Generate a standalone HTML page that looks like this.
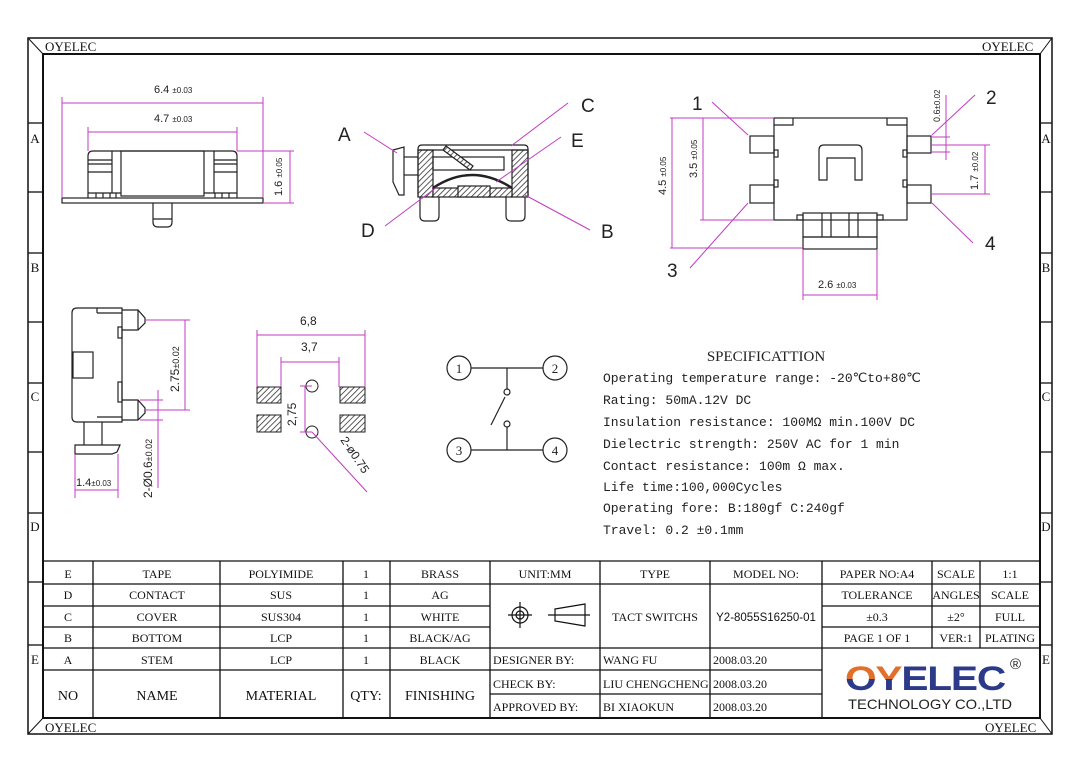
<!DOCTYPE html>
<html><head><meta charset="utf-8"><style>
html,body{margin:0;padding:0;background:#fff;}
svg{display:block;}
.s{font-family:"Liberation Serif",serif;}
.m{font-family:"Liberation Mono",monospace;}
.a{font-family:"Liberation Sans",sans-serif;}
</style></head><body>
<svg width="1080" height="763" viewBox="0 0 1080 763" xmlns="http://www.w3.org/2000/svg">
<defs>
<pattern id="h" width="4" height="4" patternUnits="userSpaceOnUse" patternTransform="rotate(45)"><rect width="4" height="4" fill="#fff"/><line x1="0" y1="0" x2="0" y2="4" stroke="#333" stroke-width="1.6"/></pattern>
<linearGradient id="og" x1="0" y1="0" x2="0" y2="1"><stop offset="0" stop-color="#e0702a"/><stop offset="0.5" stop-color="#e0702a"/><stop offset="0.5" stop-color="#2c3a8a"/><stop offset="1" stop-color="#2c3a8a"/></linearGradient>
</defs>
<!-- frame -->
<g fill="none" stroke="#111">
<rect x="28" y="38" width="1024" height="696" stroke-width="1.5"/>
<rect x="43" y="54" width="997" height="664" stroke-width="2"/>
<line x1="28" y1="38" x2="43" y2="54"/><line x1="1052" y1="38" x2="1040" y2="54"/>
<line x1="28" y1="734" x2="43" y2="718"/><line x1="1052" y1="734" x2="1040" y2="718"/>
<g stroke-width="1.3">
<line x1="28" y1="123" x2="43" y2="123"/><line x1="28" y1="192" x2="43" y2="192"/><line x1="28" y1="253" x2="43" y2="253"/><line x1="28" y1="322" x2="43" y2="322"/><line x1="28" y1="383" x2="43" y2="383"/><line x1="28" y1="452" x2="43" y2="452"/><line x1="28" y1="513" x2="43" y2="513"/><line x1="28" y1="582" x2="43" y2="582"/><line x1="28" y1="645" x2="43" y2="645"/>
<line x1="1040" y1="123" x2="1052" y2="123"/><line x1="1040" y1="192" x2="1052" y2="192"/><line x1="1040" y1="253" x2="1052" y2="253"/><line x1="1040" y1="322" x2="1052" y2="322"/><line x1="1040" y1="383" x2="1052" y2="383"/><line x1="1040" y1="452" x2="1052" y2="452"/><line x1="1040" y1="513" x2="1052" y2="513"/><line x1="1040" y1="582" x2="1052" y2="582"/><line x1="1040" y1="645" x2="1052" y2="645"/>
</g></g>
<g class="s" font-size="13" fill="#111">
<text x="45" y="51">OYELEC</text><text x="982" y="51">OYELEC</text>
<text x="45" y="732">OYELEC</text><text x="985" y="732">OYELEC</text>
<g text-anchor="middle"><text x="35" y="143">A</text><text x="35" y="272">B</text><text x="35" y="401">C</text><text x="35" y="531">D</text><text x="35" y="664">E</text>
<text x="1046" y="143">A</text><text x="1046" y="272">B</text><text x="1046" y="401">C</text><text x="1046" y="531">D</text><text x="1046" y="664">E</text></g>
</g>

<!-- Drawing 1 front view -->
<g fill="none" stroke="#222" stroke-width="1.2">
<path d="M88 198 V156 Q88 151 93 151 H232 Q237 151 237 156 V198"/>
<rect x="62" y="198" width="201" height="5"/>
<rect x="121" y="151" width="83" height="45"/>
<line x1="112" y1="151" x2="112" y2="193"/><line x1="214" y1="151" x2="214" y2="193"/>
<line x1="88" y1="160" x2="112" y2="160"/><line x1="88" y1="164" x2="112" y2="164"/><line x1="88" y1="172" x2="112" y2="172"/>
<line x1="214" y1="160" x2="237" y2="160"/><line x1="214" y1="164" x2="237" y2="164"/><line x1="214" y1="172" x2="237" y2="172"/>
<line x1="88" y1="193" x2="121" y2="193"/><line x1="204" y1="193" x2="237" y2="193"/>
<line x1="96" y1="193" x2="96" y2="198"/><line x1="103" y1="193" x2="103" y2="198"/><line x1="110" y1="193" x2="110" y2="198"/><line x1="116" y1="193" x2="116" y2="198"/>
<line x1="215" y1="193" x2="215" y2="198"/><line x1="222" y1="193" x2="222" y2="198"/><line x1="229" y1="193" x2="229" y2="198"/>
<path d="M153 203 V222 Q153 227 158 227 H167 Q172 227 172 222 V203"/><line x1="153" y1="219" x2="172" y2="219"/>
</g>
<g fill="none" stroke="#c03cc0" stroke-width="1">
<line x1="62" y1="97" x2="62" y2="198"/><line x1="263" y1="97" x2="263" y2="198"/><line x1="62" y1="103" x2="263" y2="103"/>
<line x1="88" y1="127" x2="88" y2="151"/><line x1="237" y1="127" x2="237" y2="151"/><line x1="88" y1="132" x2="237" y2="132"/>
<line x1="237" y1="151" x2="294" y2="151"/><line x1="263" y1="203" x2="294" y2="203"/><line x1="290" y1="151" x2="290" y2="203"/>
</g>
<g class="a" fill="#222" font-size="11">
<text x="154" y="93">6.4 <tspan font-size="8">±0.03</tspan></text>
<text x="154" y="122">4.7 <tspan font-size="8">±0.03</tspan></text>
<text transform="translate(282,196) rotate(-90)">1.6 <tspan font-size="8">±0.05</tspan></text>
</g>

<!-- Drawing 2 cross section -->
<g stroke="#222" stroke-width="1.2">
<rect x="418" y="150" width="15" height="47" fill="url(#h)"/>
<rect x="512" y="150" width="16" height="47" fill="url(#h)"/>
<rect x="433" y="188" width="79" height="9" fill="url(#h)"/>
<rect x="458" y="186" width="32" height="11" fill="url(#h)"/>
<path d="M433 188 Q472 162 512 188" fill="none" stroke-width="2.5"/>
<path d="M418 197 V149 Q418 145 422 145 H524 Q528 145 528 149 V197" fill="none"/>
<line x1="418" y1="150" x2="528" y2="150"/>
<rect x="433" y="157" width="71" height="13" fill="none"/>
<path d="M446 146 L473 166 L470 170 L443 150 Z" fill="url(#h)"/>
<path d="M393 150 L404 147 V195 L399 195 L393 182 Z" fill="#fff"/>
<line x1="404" y1="157" x2="418" y2="157"/><line x1="404" y1="175" x2="418" y2="175"/>
<path d="M420 197 V216 Q420 221 425 221 H434 Q439 221 439 216 V197" fill="none"/>
<path d="M506 197 V216 Q506 221 511 221 H520 Q525 221 525 216 V197" fill="none"/>
</g>
<g fill="none" stroke="#c03cc0" stroke-width="1">
<line x1="364" y1="132" x2="397" y2="153"/><line x1="568" y1="103" x2="511" y2="146"/>
<line x1="561" y1="137" x2="496" y2="182"/><line x1="385" y1="226" x2="437" y2="187"/><line x1="590" y1="230" x2="525" y2="195"/>
</g>
<g class="a" fill="#222" font-size="19">
<text x="338" y="141">A</text><text x="581" y="112">C</text><text x="571" y="147">E</text><text x="361" y="237">D</text><text x="601" y="238">B</text>
</g>

<!-- Drawing 3 top view -->
<g fill="none" stroke="#222" stroke-width="1.2">
<rect x="774" y="118" width="133" height="102"/>
<path d="M774 125 H793 V118"/><path d="M907 125 H887 V118"/>
<path d="M819 180 V150 Q819 145 824 145 H857 Q862 145 862 150 V180 H855 V158 H827 V180 Z"/>
<rect x="750" y="136" width="24" height="17"/><rect x="750" y="185" width="24" height="18"/>
<rect x="907" y="136" width="24" height="17"/><rect x="907" y="185" width="24" height="18"/>
<rect x="774" y="150" width="4" height="7"/><rect x="774" y="180" width="4" height="7"/>
<rect x="903" y="150" width="4" height="7"/><rect x="903" y="180" width="4" height="7"/>
<rect x="803" y="213" width="74" height="24"/><rect x="803" y="237" width="74" height="12"/>
<line x1="822" y1="213" x2="822" y2="237"/><line x1="831" y1="213" x2="831" y2="237"/><line x1="849" y1="213" x2="849" y2="237"/><line x1="858" y1="213" x2="858" y2="237"/>
<rect x="797" y="215" width="6" height="5"/><rect x="877" y="215" width="6" height="5"/>
</g>
<g fill="none" stroke="#c03cc0" stroke-width="1">
<line x1="670" y1="118" x2="774" y2="118"/><line x1="700" y1="220" x2="774" y2="220"/><line x1="670" y1="248" x2="803" y2="248"/>
<line x1="672" y1="118" x2="672" y2="248"/><line x1="703" y1="118" x2="703" y2="220"/>
<line x1="803" y1="249" x2="803" y2="300"/><line x1="877" y1="249" x2="877" y2="300"/><line x1="803" y1="295" x2="877" y2="295"/>
<line x1="931" y1="137" x2="950" y2="137"/><line x1="931" y1="152" x2="950" y2="152"/><line x1="946" y1="95" x2="946" y2="160"/>
<line x1="931" y1="145" x2="990" y2="145"/><line x1="931" y1="194" x2="990" y2="194"/><line x1="985" y1="145" x2="985" y2="194"/>
<line x1="712" y1="102" x2="748" y2="135"/><line x1="975" y1="95" x2="932" y2="135"/>
<line x1="690" y1="268" x2="748" y2="203"/><line x1="973" y1="243" x2="932" y2="203"/>
</g>
<g class="a" fill="#222" font-size="11">
<text transform="translate(666,195) rotate(-90)">4.5 <tspan font-size="8">±0.05</tspan></text>
<text transform="translate(697,178) rotate(-90)">3.5 <tspan font-size="8">±0.05</tspan></text>
<text transform="translate(940,122) rotate(-90)" font-size="9">0.6<tspan font-size="8">±0.02</tspan></text>
<text transform="translate(978,190) rotate(-90)">1.7 <tspan font-size="8">±0.02</tspan></text>
<text x="818" y="288">2.6 <tspan font-size="8">±0.03</tspan></text>
</g>
<g class="a" fill="#222" font-size="19">
<text x="692" y="110">1</text><text x="986" y="104">2</text><text x="667" y="277">3</text><text x="985" y="250">4</text>
</g>

<!-- Drawing 4 side view -->
<g fill="none" stroke="#222" stroke-width="1.2">
<path d="M77 308 H122 V422 H77 Q72 422 72 417 V313 Q72 308 77 308 Z"/>
<rect x="73" y="352" width="20" height="26"/>
<line x1="97" y1="308" x2="97" y2="313"/><line x1="97" y1="313" x2="122" y2="313"/>
<line x1="97" y1="417" x2="122" y2="417"/>
<path d="M122 310 H138 L145 318 V323 L138 330 H122"/><line x1="138" y1="310" x2="138" y2="330"/>
<path d="M122 400 H138 L145 408 V413 L138 420 H122"/><line x1="138" y1="400" x2="138" y2="420"/>
<rect x="118" y="327" width="4" height="11"/><rect x="118" y="382" width="4" height="20"/>
<line x1="84" y1="422" x2="84" y2="445"/><line x1="102" y1="422" x2="102" y2="445"/>
<path d="M75 445 H120 L117 452 L112 454 H75 Z"/>
</g>
<g fill="none" stroke="#c03cc0" stroke-width="1">
<line x1="145" y1="320" x2="190" y2="320"/><line x1="145" y1="410" x2="190" y2="410"/><line x1="185" y1="320" x2="185" y2="410"/>
<line x1="140" y1="400" x2="163" y2="400"/><line x1="140" y1="420" x2="163" y2="420"/><line x1="158" y1="390" x2="158" y2="488"/>
<line x1="75" y1="454" x2="75" y2="498"/><line x1="118" y1="454" x2="118" y2="498"/><line x1="75" y1="490" x2="118" y2="490"/>
</g>
<g class="a" fill="#222" font-size="12">
<text transform="translate(179,392) rotate(-90)">2.75<tspan font-size="9">±0.02</tspan></text>
<text transform="translate(152,498) rotate(-90)">2-Ø0.6<tspan font-size="9">±0.02</tspan></text>
<text x="76" y="486" font-size="11">1.4<tspan font-size="8">±0.03</tspan></text>
</g>

<!-- Drawing 5 footprint -->
<g stroke="#222" stroke-width="1">
<rect x="257" y="387" width="24" height="16" fill="url(#h)"/><rect x="257" y="415" width="24" height="17" fill="url(#h)"/>
<rect x="340" y="387" width="25" height="16" fill="url(#h)"/><rect x="340" y="415" width="25" height="17" fill="url(#h)"/>
<circle cx="312" cy="386" r="6" fill="none"/><circle cx="312" cy="432" r="6" fill="none"/>
</g>
<g fill="none" stroke="#c03cc0" stroke-width="1">
<line x1="257" y1="330" x2="257" y2="387"/><line x1="365" y1="330" x2="365" y2="387"/><line x1="257" y1="335" x2="365" y2="335"/>
<line x1="281" y1="357" x2="281" y2="387"/><line x1="339" y1="357" x2="339" y2="387"/><line x1="281" y1="362" x2="339" y2="362"/>
<line x1="305" y1="386" x2="305" y2="432"/><line x1="300" y1="386" x2="312" y2="386"/><line x1="300" y1="432" x2="312" y2="432"/>
<line x1="312" y1="432" x2="367" y2="492"/>
</g>
<g class="a" fill="#222" font-size="12">
<text x="300" y="325">6,8</text><text x="301" y="351">3,7</text>
<text transform="translate(296,426) rotate(-90)">2,75</text>
<text transform="translate(340,440) rotate(56)">2-ø0.75</text>
</g>

<!-- Switch schematic -->
<g fill="#fff" stroke="#222" stroke-width="1.2">
<line x1="471" y1="368" x2="543" y2="368"/><line x1="507" y1="368" x2="507" y2="389"/>
<line x1="505" y1="397" x2="491" y2="425"/>
<line x1="507" y1="427" x2="507" y2="450"/><line x1="471" y1="450" x2="543" y2="450"/>
<circle cx="507" cy="392" r="3"/><circle cx="507" cy="424" r="3"/>
<circle cx="459" cy="368" r="12"/><circle cx="555" cy="368" r="12"/><circle cx="459" cy="450" r="12"/><circle cx="555" cy="450" r="12"/>
</g>
<g class="s" fill="#222" font-size="13" text-anchor="middle">
<text x="459" y="373">1</text><text x="555" y="373">2</text><text x="459" y="455">3</text><text x="555" y="455">4</text>
</g>

<!-- Specification -->
<g class="m" fill="#222" font-size="13">
<text x="766" y="361" text-anchor="middle" class="s" font-size="15">SPECIFICATTION</text>
<text x="603" y="382">Operating temperature range: -20℃to+80℃</text>
<text x="603" y="404">Rating: 50mA.12V DC</text>
<text x="603" y="426">Insulation resistance: 100MΩ min.100V DC</text>
<text x="603" y="448">Dielectric strength: 250V AC for 1 min</text>
<text x="603" y="470">Contact resistance: 100m Ω max.</text>
<text x="603" y="491">Life time:100,000Cycles</text>
<text x="603" y="512">Operating fore:  B:180gf C:240gf</text>
<text x="603" y="534">Travel: 0.2 ±0.1mm</text>
</g>

<!-- Title block -->
<g fill="none" stroke="#111" stroke-width="1.3">
<line x1="43" y1="561" x2="1040" y2="561"/>
<line x1="43" y1="584" x2="490" y2="584"/><line x1="43" y1="606" x2="490" y2="606"/><line x1="43" y1="627" x2="490" y2="627"/>
<line x1="43" y1="648" x2="822" y2="648"/><line x1="43" y1="670" x2="490" y2="670"/>
<line x1="490" y1="584" x2="822" y2="584"/><line x1="490" y1="670" x2="822" y2="670"/><line x1="490" y1="694" x2="822" y2="694"/>
<line x1="822" y1="584" x2="1040" y2="584"/><line x1="822" y1="606" x2="1040" y2="606"/><line x1="822" y1="627" x2="1040" y2="627"/><line x1="822" y1="648" x2="1040" y2="648"/>
<line x1="93" y1="561" x2="93" y2="718"/><line x1="220" y1="561" x2="220" y2="718"/><line x1="343" y1="561" x2="343" y2="718"/><line x1="390" y1="561" x2="390" y2="718"/>
<line x1="490" y1="561" x2="490" y2="718"/><line x1="600" y1="561" x2="600" y2="718"/><line x1="710" y1="561" x2="710" y2="718"/><line x1="822" y1="561" x2="822" y2="718"/>
<line x1="932" y1="561" x2="932" y2="648"/><line x1="980" y1="561" x2="980" y2="648"/>
</g>
<g class="s" fill="#111" font-size="12" text-anchor="middle">
<text x="68" y="578">E</text><text x="157" y="578">TAPE</text><text x="281" y="578">POLYIMIDE</text><text x="366" y="578">1</text><text x="440" y="578">BRASS</text>
<text x="68" y="599">D</text><text x="157" y="599">CONTACT</text><text x="281" y="599">SUS</text><text x="366" y="599">1</text><text x="440" y="599">AG</text>
<text x="68" y="621">C</text><text x="157" y="621">COVER</text><text x="281" y="621">SUS304</text><text x="366" y="621">1</text><text x="440" y="621">WHITE</text>
<text x="68" y="642">B</text><text x="157" y="642">BOTTOM</text><text x="281" y="642">LCP</text><text x="366" y="642">1</text><text x="440" y="642">BLACK/AG</text>
<text x="68" y="664">A</text><text x="157" y="664">STEM</text><text x="281" y="664">LCP</text><text x="366" y="664">1</text><text x="440" y="664">BLACK</text>
<text x="68" y="700" font-size="14">NO</text><text x="157" y="700" font-size="14">NAME</text><text x="281" y="700" font-size="14">MATERIAL</text><text x="366" y="700" font-size="14">QTY:</text><text x="440" y="700" font-size="14">FINISHING</text>
<text x="545" y="578">UNIT:MM</text><text x="655" y="578">TYPE</text><text x="766" y="578">MODEL NO:</text>
<text x="655" y="621">TACT SWITCHS</text>
<text x="766" y="621" class="a" font-size="11.5">Y2-8055S16250-01</text>
<text x="877" y="578">PAPER NO:A4</text><text x="956" y="578">SCALE</text><text x="1010" y="578">1:1</text>
<text x="877" y="599">TOLERANCE</text><text x="956" y="599">ANGLES</text><text x="1010" y="599">SCALE</text>
<text x="877" y="621">±0.3</text><text x="956" y="621">±2°</text><text x="1010" y="621">FULL</text>
<text x="877" y="642">PAGE 1 OF 1</text><text x="956" y="642">VER:1</text><text x="1010" y="642">PLATING</text>
</g>
<g class="s" fill="#111" font-size="12">
<text x="493" y="664">DESIGNER BY:</text><text x="603" y="664">WANG FU</text><text x="713" y="664">2008.03.20</text>
<text x="493" y="688">CHECK BY:</text><text x="603" y="688">LIU CHENGCHENG</text><text x="713" y="688">2008.03.20</text>
<text x="493" y="711">APPROVED BY:</text><text x="603" y="711">BI XIAOKUN</text><text x="713" y="711">2008.03.20</text>
</g>
<!-- symbols -->
<g fill="none" stroke="#111" stroke-width="1.2">
<circle cx="520" cy="615" r="8"/><circle cx="520" cy="615" r="4"/><line x1="508" y1="615" x2="532" y2="615"/><line x1="520" y1="602" x2="520" y2="628"/>
<path d="M555 609 L585 604 V626 L555 621 Z"/><line x1="548" y1="615" x2="590" y2="615"/>
</g>
<!-- logo -->
<g class="a" font-weight="bold">
<text x="845" y="690" font-size="34" fill="#2c3a8a" letter-spacing="-1" textLength="160" lengthAdjust="spacingAndGlyphs"><tspan fill="url(#og)">OY</tspan>ELEC</text>
<text x="1010" y="669" font-size="15" fill="#222" font-weight="normal">®</text>
</g>
<text x="848" y="709" class="a" font-size="14" fill="#222" textLength="164" lengthAdjust="spacingAndGlyphs">TECHNOLOGY CO.,LTD</text>
</svg>
</body></html>
